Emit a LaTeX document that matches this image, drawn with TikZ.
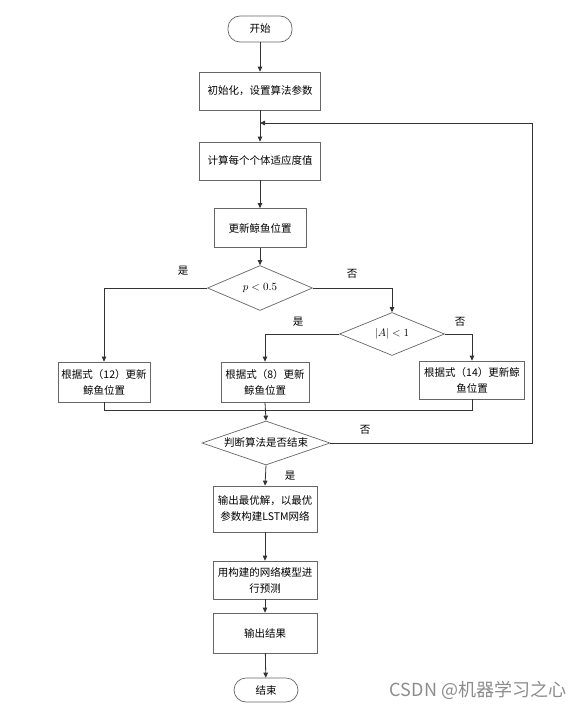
\documentclass[tikz,border=0pt]{standalone}
\usepackage{fontspec}
\newfontfamily\cjk{Noto Sans CJK SC}
\usetikzlibrary{shapes.geometric,arrows.meta}

\tikzset{
   box/.style={draw=black!60, line width=0.7pt, fill=white, align=center,
      inner sep=0pt, font=\cjk\fontsize{10.5}{16}\selectfont},
   term/.style={box, rounded corners=12pt},
   decision/.style={diamond, aspect=3, draw=black!60, line width=0.7pt,
      fill=white, inner sep=0pt, align=center, font=\cjk\fontsize{10.5}{16}\selectfont},
   lab/.style={font=\cjk\fontsize{10.5}{16}\selectfont},
   arr/.style={draw=black!80, line width=0.8pt, -{Triangle[length=5pt,width=4.5pt]}},
   ln/.style={draw=black!80, line width=0.8pt}
}

\begin{document}
\begin{tikzpicture}[x=1pt,y=-1pt]
   \useasboundingbox (0,0) rectangle (582,722);

   \node[term, minimum width=64pt, minimum height=26pt] (start) at (260,29) {开始};
   \node[box, minimum width=121pt, minimum height=38pt] (init) at (260,91) {初始化，设置算法参数};
   \node[box, minimum width=121pt, minimum height=38pt] (fit) at (260,161) {计算每个个体适应度值};
   \node[box, minimum width=92pt, minimum height=39pt] (upd) at (260,228) {更新鲸鱼位置};
   \node[decision, minimum width=105pt, minimum height=45pt] (dp) at (260,288) {$p<0.5$};
   \node[decision, minimum width=105pt, minimum height=43pt] (da) at (392,334) {$|A|<1$};
   \node[box, minimum width=92pt, minimum height=40pt] (r12) at (104,382) {根据式（12）更新\\鲸鱼位置};
   \node[box, minimum width=88pt, minimum height=40pt] (r8) at (265,382) {根据式（8）更新\\鲸鱼位置};
   \node[box, minimum width=105pt, minimum height=38pt] (r14) at (472,380) {根据式（14）更新鲸\\鱼位置};
   \node[decision, minimum width=128pt, minimum height=44pt] (judge) at (266,443) {判断算法是否结束};
   \node[box, minimum width=104pt, minimum height=46pt] (best) at (265,509) {输出最优解，以最优\\参数构建LSTM网络};
   \node[box, minimum width=104pt, minimum height=38pt] (pred) at (265,580) {用构建的网络模型进\\行预测};
   \node[box, minimum width=104pt, minimum height=40pt] (res) at (265,633) {输出结果};
   \node[term, minimum width=64pt, minimum height=24pt] (stop) at (266,690) {结束};

   % branch labels
   \node[lab] (yes1) at (183,271) {是};
   \node[lab] (no1) at (352,274) {否};
   \node[lab] (yes2) at (298,322) {是};
   \node[lab] (no2) at (460,322) {否};
   \node[lab] (no3) at (365,430) {否};
   \node[lab] (yes3) at (290,476) {是};

   \coordinate (back) at (260,123);
   \coordinate (corner) at (532,123);
   \coordinate (mL) at (104,410);
   \coordinate (mR) at (472,410);

   \draw[arr] (start) -- (init);
   \draw[arr] (init) -- (fit);
   \draw[arr] (fit) -- (upd);
   \draw[arr] (upd) -- (dp);
   \draw[arr] (dp.west) -| (r12.north);
   \draw[arr] (dp.east) -| (da.north);
   \draw[arr] (da.west) -| (r8.north);
   \draw[arr] (da.east) -| (r14.north);
   \draw[ln] (r12.south) -- (mL) -- (mR) -- (r14.south);
   \draw[arr] (r8.south) -- (judge.north);
   \draw[arr] (judge.east) -| (corner) -- (back);
   \draw[arr] (judge.south) -- (best.north);
   \draw[arr] (best) -- (pred);
   \draw[arr] (pred) -- (res);
   \draw[arr] (res) -- (stop);

   \node[font=\cjk\fontsize{18}{20}\selectfont, text=black!45] (mark) at (478,690) {CSDN @机器学习之心};
\end{tikzpicture}
\end{document}
